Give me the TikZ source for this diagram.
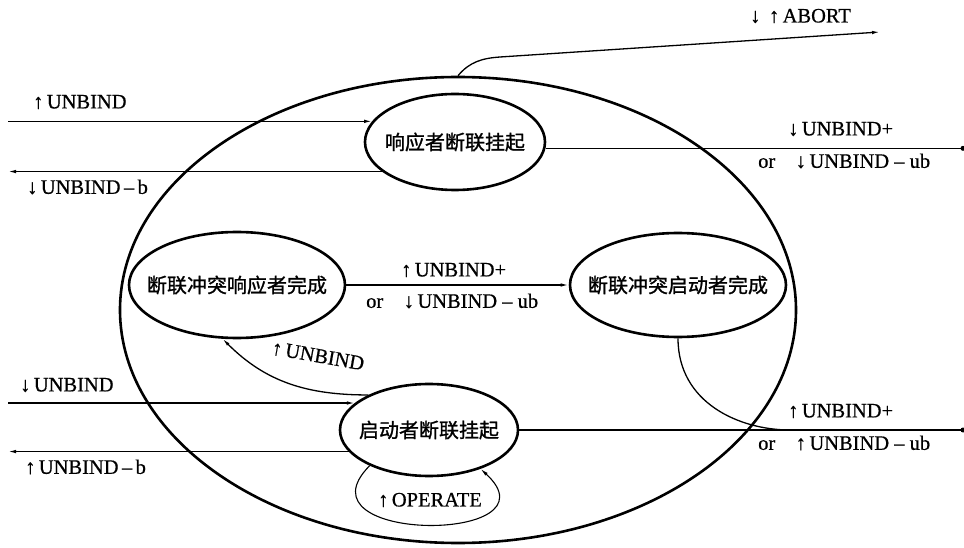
\documentclass[tikz,border=0pt]{standalone}
\usepackage{fontspec}
\setmainfont[FakeBold=0.6]{Liberation Serif}
\newfontfamily\cjk[FakeBold=1.2]{Noto Sans CJK SC}
\usetikzlibrary{shapes.geometric,arrows.meta}
\begin{document}
\begin{tikzpicture}[x=1pt,y=1pt,
  lbl/.style={font=\fontsize{20.5}{24}\selectfont, inner sep=0, anchor=west},
  st/.style={ellipse, draw, line width=2.6pt, inner sep=0},
  stt/.style={font=\cjk\fontsize{20}{24}\selectfont, inner sep=0},
  conn/.style={line width=1.3pt},
  arr/.style={conn, -{Latex[length=8pt,width=3.5pt]}},
  enddot/.style={circle, fill, inner sep=0, minimum size=5pt}
]
\useasboundingbox (0,0) rectangle (964,547);
\coordinate (L) at (8,0);
\coordinate (R) at (963,0);
\coordinate (A) at (880,515);
\coordinate (Ab) at (500,490);
\coordinate (M) at (790,117);

% outer ellipse
\node[st, minimum width=676, minimum height=466] (big) at (458,237) {};

% states
\node[st, minimum width=180, minimum height=96] (e1) at (455,405) {};
\node[stt] (t1) at (e1) {响应者断联挂起};
\node[st, minimum width=216, minimum height=106] (e2) at (237,262) {};
\node[stt] (t2) at (e2) {断联冲突响应者完成};
\node[st, minimum width=216, minimum height=104] (e3) at (678,262) {};
\node[stt] (t3) at (e3) {断联冲突启动者完成};
\node[st, minimum width=178, minimum height=92] (e4) at (429,117) {};
\node[stt] (t4) at (e4) {启动者断联挂起};

% ABORT
\draw[arr] (big.north) to[out=50,in=184] (Ab) -- (A);
\node[lbl] (lab) at (750,531) {↓\, ↑\,ABORT};

% top state connectors
\draw[arr] (e1.166 -| L) -- (e1.166);
\node[lbl] (l1) at (33,445) {↑\,UNBIND};
\draw[arr] (e1.202) -- (e1.202 -| L);
\node[lbl] (l2) at (27,360) {↓\,UNBIND\,–\,b};
\draw[conn] (e1.-4) -- (e1.-4 -| R) node[enddot] (d1) {};
\node[lbl] (l3) at (788,418) {↓\,UNBIND+};
\node[lbl] (l4) at (758,386) {or\quad↓\,UNBIND – ub};

% middle
\draw[arr] (e2.east) -- (e3.west);
\node[lbl] (l5) at (401,277) {↑\,UNBIND+};
\node[lbl] (l6) at (366,246) {or\quad↓\,UNBIND – ub};

% e4 -> e2
\draw[arr] (e4.150) to[out=180,in=-45] (e2.255);
\node[lbl, anchor=center, rotate=-10] (l7) at (318,191) {↑\,UNBIND};

% bottom state connectors
\draw[arr] (e4.160.5 -| L) -- (e4.160.5);
\node[lbl] (l8) at (20,162) {↓\,UNBIND};
\draw[arr] (e4.195.7) -- (e4.195.7 -| L);
\node[lbl] (l9) at (25,80) {↑\,UNBIND\,–\,b};
\draw[conn] (e4.east) -- (e4.east -| R) node[enddot] (d2) {};
\node[lbl] (l10) at (788,136) {↑\,UNBIND+};
\node[lbl] (l11) at (758,104) {or\quad↑\,UNBIND – ub};

% e3 -> bottom line
\draw[conn] (e3.south) .. controls +(0,-65) and +(-50,0) .. (M);

% OPERATE loop
\draw[arr, line width=1.1pt] (e4.211) .. controls (292,3) and (562,3) .. (e4.323);
\node[lbl] (l12) at (378,47) {↑\,OPERATE};
\end{tikzpicture}
\end{document}
